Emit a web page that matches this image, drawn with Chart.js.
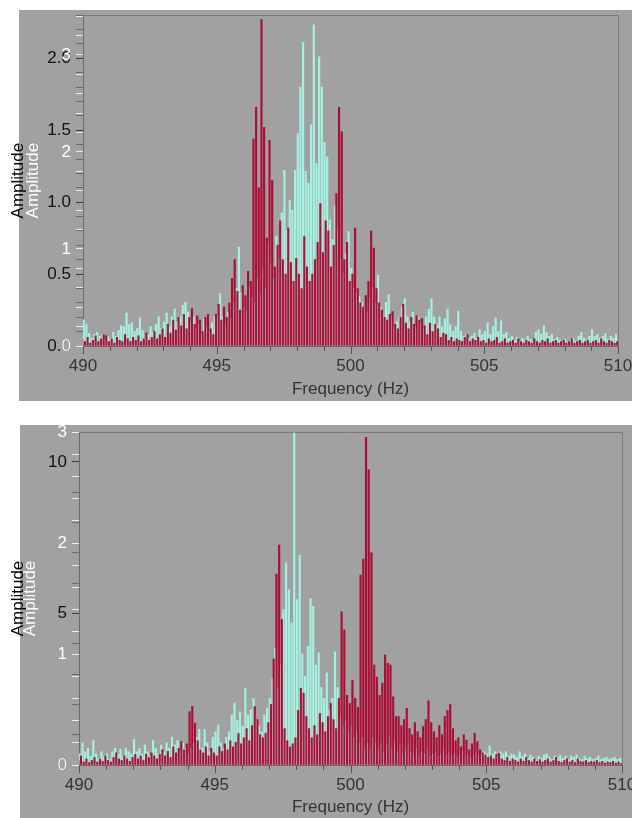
<!DOCTYPE html>
<html><head><meta charset="utf-8">
<script src="https://cdn.jsdelivr.net/npm/chart.js@4.4.0/dist/chart.umd.min.js"></script>
<style>
html,body{margin:0;padding:0;background:#fff;overflow:hidden;width:632px;height:818px;}
canvas{position:absolute;left:0;}
#c1{top:0}
#c2{top:410px}
</style></head><body>
<canvas id="c1" width="650" height="410"></canvas>
<canvas id="c2" width="650" height="408"></canvas>
<script>
// Frequency grid (Hz)
const freqStart = 490, freqStep = 0.1, freqCount = 201;
const xMajorTicks = [490, 495, 500, 505, 510];

// Top panel
const topRed = [
0.05,0.03,0.06,0.02,0.04,0.07,0.03,0.05,0.08,0.07,
0.03,0.05,0.02,0.06,0.04,0.03,0.08,0.05,0.03,0.06,
0.04,0.07,0.03,0.05,0.09,0.04,0.06,0.10,0.05,0.08,
0.12,0.06,0.15,0.09,0.18,0.11,0.20,0.14,0.22,0.12,
0.20,0.26,0.15,0.21,0.18,0.10,0.20,0.22,0.12,0.08,
0.22,0.29,0.18,0.27,0.20,0.30,0.47,0.60,0.38,0.25,
0.42,0.35,0.52,0.45,1.44,1.66,1.10,2.27,1.52,0.75,
1.43,1.15,0.55,0.70,0.87,0.60,0.50,0.82,0.58,0.45,
0.61,0.50,0.40,0.76,0.55,0.45,0.50,0.60,0.72,0.99,
0.65,0.87,0.80,0.55,0.70,1.06,1.66,1.49,0.60,0.72,
0.45,0.50,0.82,0.40,0.30,0.27,0.35,0.45,0.80,0.68,
0.40,0.30,0.25,0.20,0.18,0.22,0.24,0.15,0.12,0.20,
0.29,0.16,0.12,0.20,0.15,0.21,0.18,0.19,0.14,0.08,
0.16,0.10,0.15,0.12,0.06,0.09,0.08,0.04,0.06,0.03,
0.05,0.04,0.03,0.06,0.08,0.03,0.05,0.04,0.06,0.03,
0.04,0.02,0.05,0.03,0.04,0.06,0.02,0.03,0.05,0.02,
0.03,0.04,0.02,0.05,0.03,0.02,0.04,0.03,0.02,0.05,
0.03,0.02,0.04,0.03,0.05,0.02,0.03,0.04,0.02,0.03,
0.04,0.02,0.03,0.05,0.02,0.03,0.04,0.02,0.03,0.04,
0.02,0.03,0.04,0.02,0.05,0.03,0.02,0.04,0.03,0.02,
0.03];
const topCyan = [
0.27,0.22,0.13,0.08,0.12,0.14,0.10,0.12,0.06,0.10,
0.08,0.14,0.10,0.16,0.21,0.20,0.34,0.22,0.24,0.15,
0.18,0.29,0.16,0.08,0.12,0.20,0.14,0.22,0.30,0.18,
0.25,0.34,0.20,0.30,0.38,0.25,0.30,0.42,0.45,0.35,
0.25,0.30,0.18,0.22,0.12,0.28,0.20,0.15,0.24,0.30,
0.32,0.54,0.30,0.22,0.35,0.28,0.45,0.60,1.02,0.55,
0.40,0.35,0.60,0.50,0.45,0.70,0.55,0.80,0.60,1.06,
0.85,0.70,1.13,0.90,1.37,1.81,1.20,1.50,1.40,1.81,
2.19,2.67,3.13,1.80,1.68,2.28,3.31,1.88,2.98,2.67,
2.10,1.95,1.30,1.10,1.45,1.20,0.90,0.75,0.95,1.18,
0.80,0.60,0.55,0.51,0.45,0.40,0.35,0.50,0.60,0.45,
0.73,0.40,0.30,0.45,0.53,0.30,0.20,0.25,0.30,0.40,
0.49,0.30,0.25,0.35,0.20,0.30,0.25,0.18,0.30,0.38,
0.49,0.30,0.22,0.30,0.20,0.28,0.38,0.22,0.15,0.20,
0.36,0.15,0.10,0.12,0.08,0.10,0.13,0.08,0.17,0.12,
0.15,0.24,0.12,0.20,0.29,0.15,0.26,0.12,0.14,0.08,
0.10,0.06,0.09,0.05,0.08,0.06,0.10,0.07,0.05,0.14,
0.17,0.12,0.21,0.14,0.10,0.12,0.07,0.09,0.06,0.05,
0.07,0.04,0.06,0.08,0.05,0.10,0.14,0.08,0.06,0.10,
0.17,0.10,0.12,0.08,0.10,0.13,0.07,0.10,0.08,0.12,
0.06];
const topDarkMajor = [0, 0.5, 1.0, 1.5, 2.0];
const topWhiteMajor = [0, 1, 2, 3];

// Bottom panel
const bottomRed = [
0.15,0.30,0.10,0.20,0.08,0.15,0.25,0.10,0.20,0.12,
0.30,0.15,0.10,0.25,0.40,0.20,0.15,0.30,0.20,0.12,
0.25,0.35,0.20,0.30,0.15,0.36,0.25,0.40,0.30,0.20,
0.35,0.50,0.30,0.45,0.25,0.60,0.40,0.55,0.77,0.50,
0.70,1.76,1.93,1.38,0.80,0.50,0.40,0.60,0.30,0.55,
0.40,0.30,0.60,0.45,0.70,0.50,0.80,0.60,0.75,1.04,
0.70,0.90,1.20,0.80,1.30,1.93,1.50,1.00,0.90,1.05,
1.40,2.00,3.50,6.30,7.26,4.80,1.20,0.80,0.60,0.70,
0.90,1.80,2.53,2.37,1.60,1.20,0.90,1.30,1.00,1.70,
1.40,1.10,1.60,2.03,1.50,1.20,2.20,5.06,4.46,2.30,
2.03,2.80,2.20,1.90,6.27,6.80,10.81,9.74,7.00,3.30,
2.90,2.30,2.70,3.63,3.36,3.30,2.25,1.60,1.60,1.30,
1.50,1.87,1.20,1.00,1.40,1.10,0.90,1.27,1.50,2.12,
1.40,1.10,0.90,1.30,1.00,1.60,1.80,2.00,1.20,0.80,
0.90,0.60,1.00,0.82,0.50,0.70,1.05,0.77,0.50,0.40,
0.33,0.25,0.30,0.20,0.35,0.38,0.20,0.15,0.25,0.12,
0.20,0.15,0.10,0.20,0.12,0.25,0.15,0.10,0.20,0.12,
0.18,0.10,0.15,0.20,0.10,0.15,0.25,0.12,0.08,0.15,
0.20,0.10,0.15,0.08,0.20,0.12,0.10,0.15,0.08,0.12,
0.10,0.15,0.08,0.12,0.06,0.10,0.08,0.12,0.06,0.10,
0.05];
const bottomCyan = [
0.10,0.20,0.12,0.15,0.08,0.22,0.10,0.06,0.12,0.08,
0.10,0.05,0.12,0.15,0.10,0.14,0.08,0.15,0.12,0.10,
0.23,0.12,0.15,0.10,0.18,0.12,0.08,0.22,0.15,0.10,
0.18,0.12,0.20,0.15,0.25,0.18,0.22,0.12,0.20,0.15,
0.10,0.15,0.20,0.25,0.32,0.15,0.32,0.20,0.12,0.25,
0.30,0.36,0.20,0.15,0.25,0.30,0.45,0.56,0.40,0.48,
0.35,0.69,0.45,0.50,0.60,0.40,0.35,0.30,0.45,0.51,
0.60,0.78,1.05,0.70,0.90,1.40,1.82,1.58,1.28,2.99,
1.49,1.89,1.00,0.80,1.07,1.50,1.43,0.90,1.01,0.70,
0.60,0.83,0.50,0.60,1.02,0.70,0.45,0.35,0.40,0.30,
0.35,0.25,0.30,0.20,0.25,0.15,0.20,0.15,0.25,0.20,
0.15,0.20,0.12,0.18,0.25,0.15,0.20,0.12,0.18,0.10,
0.15,0.20,0.12,0.10,0.15,0.08,0.12,0.10,0.15,0.08,
0.10,0.12,0.08,0.10,0.14,0.09,0.12,0.08,0.10,0.07,
0.09,0.12,0.08,0.10,0.07,0.09,0.11,0.08,0.10,0.12,
0.10,0.17,0.10,0.12,0.08,0.12,0.10,0.12,0.08,0.10,
0.09,0.07,0.12,0.08,0.10,0.06,0.09,0.07,0.05,0.08,
0.06,0.09,0.10,0.07,0.05,0.08,0.07,0.09,0.06,0.08,
0.05,0.08,0.07,0.09,0.06,0.05,0.08,0.06,0.07,0.05,
0.06,0.08,0.05,0.06,0.07,0.05,0.06,0.07,0.05,0.06,
0.05];
const bottomDarkMajor = [0, 5, 10];
const bottomWhiteMajor = [0, 1, 2, 3];

const freqs = [];
for (let i = 0; i < freqCount; i++) freqs.push(+(freqStart + i * freqStep).toFixed(2));

const FONT = '"Liberation Sans", Arial, Helvetica, sans-serif';
const RED = 'rgba(172,0,44,0.92)';
const CYAN = '#a4f2e2';
const GRAY = '#a1a1a1';

function isIn(arr, v) { return arr.some(a => Math.abs(a - v) < 1e-6); }

function panelPlugin(rect) {
  return {
    id: 'panel',
    beforeDraw(chart) {
      const c = chart.ctx; c.save();
      c.fillStyle = GRAY; c.fillRect(rect.x, rect.y, rect.w, rect.h);
      c.restore();
    },
    beforeDatasetsDraw(chart) {
      const c = chart.ctx, a = chart.chartArea; c.save();
      c.strokeStyle = '#7b7b7b'; c.lineWidth = 1;
      c.beginPath();
      const t = Math.round(a.top) + 0.5, r = Math.round(a.right) + 0.5;
      c.moveTo(a.left, t); c.lineTo(r, t);
      c.moveTo(r, t); c.lineTo(r, a.bottom);
      c.stroke(); c.restore();
    },
    afterDraw(chart) {
      const c = chart.ctx, xs = chart.scales.x, b = chart.chartArea.bottom;
      c.save(); c.strokeStyle = '#555'; c.lineWidth = 1; c.beginPath();
      for (let v = xs.min; v <= xs.max + 1e-9; v += 1) {
        const px = Math.round(xs.getPixelForValue(v)) + 0.5;
        const len = isIn(xMajorTicks, v) ? 8 : 5;
        c.moveTo(px, b); c.lineTo(px, b + len);
      }
      c.stroke(); c.restore();
    }
  };
}

function makeChart(id, o) {
  const font = {family: FONT, size: 17};
  return new Chart(document.getElementById(id), {
    type: 'bar',
    data: {
      datasets: [
        {label: 'red', data: freqs.map((f, i) => ({x: f, y: o.red[i]})), yAxisID: 'y',
         backgroundColor: RED, borderWidth: 0, barThickness: 1.5, grouped: true},
        {label: 'cyan', data: freqs.map((f, i) => ({x: f, y: o.cyan[i]})), yAxisID: 'y2',
         backgroundColor: CYAN, borderWidth: 0, barThickness: 1.5, grouped: true}
      ]
    },
    options: {
      responsive: false, animation: false, devicePixelRatio: 1,
      layout: {padding: {left: 8, top: o.top, right: o.right, bottom: o.bottom}},
      plugins: {legend: {display: false}, tooltip: {enabled: false}},
      scales: {
        x: {
          type: 'linear', min: 490, max: 510, offset: false,
          afterFit(s) { s.height = o.xh; },
          grid: {display: true, drawOnChartArea: false, drawTicks: false, offset: false},
          border: {display: true, color: '#6a6a6a'},
          ticks: {stepSize: 5, autoSkip: false, includeBounds: false, padding: 10, color: '#333', maxRotation: 0, font,
                  callback: v => isIn(xMajorTicks, v) ? String(v) : ''},
          title: {display: true, text: 'Frequency (Hz)', color: '#333', font, padding: {top: 0, bottom: 0}}
        },
        y: {
          type: 'linear', position: 'left', min: 0, max: o.darkMax, weight: 2,
          afterFit(s) { s.width = o.yw; },
          grid: {display: true, drawOnChartArea: false, drawTicks: true, tickLength: 7,
                 tickColor: c => isIn(o.darkMajor, c.tick ? c.tick.value : -1) ? '#3a3a3a' : '#6a6a6a'},
          border: {display: true, color: '#6a6a6a'},
          ticks: {stepSize: o.darkStep, autoSkip: false, includeBounds: false, padding: 5, color: '#111', font,
                  callback: v => isIn(o.darkMajor, v) ? v.toFixed(o.darkDec) : ''},
          title: {display: true, text: 'Amplitude', color: '#000', font, padding: {top: 0, bottom: 0}}
        },
        y2: {
          type: 'linear', position: 'left', min: 0, max: o.whiteMax, weight: 1,
          afterFit(s) { s.width = 0; },
          grid: {display: true, drawOnChartArea: false, drawTicks: true, tickLength: 7, tickColor: '#ececec'},
          border: {display: false},
          ticks: {stepSize: 0.2, autoSkip: false, includeBounds: false, mirror: true, crossAlign: 'far',
                  padding: -21.5, color: '#fff', font,
                  callback: v => isIn(o.whiteMajor, v) ? String(Math.round(v)) : ''},
          title: {display: true, text: 'Amplitude', color: '#fff', font, padding: {top: o.wtp, bottom: 0}}
        }
      }
    },
    plugins: [panelPlugin(o.rect)]
  });
}

makeChart('c1', {
  red: topRed, cyan: topCyan, top: 15, right: 32, bottom: 10, xh: 54, yw: 75,
  darkMax: 2.30, darkStep: 0.1, darkMajor: topDarkMajor, darkDec: 1,
  whiteMax: 3.41, whiteMajor: topWhiteMajor, wtp: -60,
  rect: {x: 19, y: 10, w: 640, h: 391}
});
makeChart('c2', {
  red: bottomRed, cyan: bottomCyan, top: 22, right: 28, bottom: 0, xh: 53, yw: 71,
  darkMax: 10.99, darkStep: 1, darkMajor: bottomDarkMajor, darkDec: 0,
  whiteMax: 3.0, whiteMajor: bottomWhiteMajor, wtp: -59,
  rect: {x: 20, y: 15, w: 640, h: 400}
});
</script>
</body></html>
